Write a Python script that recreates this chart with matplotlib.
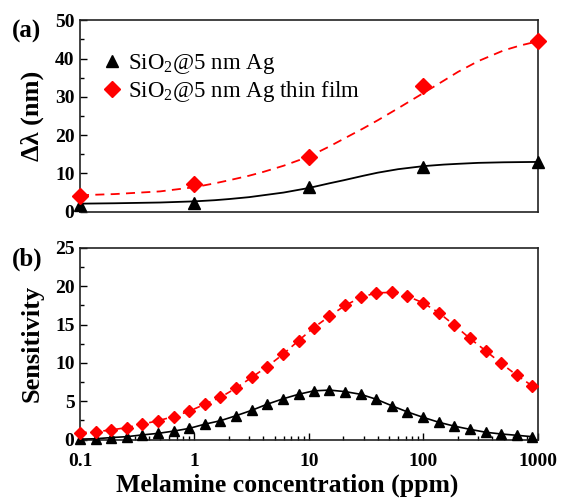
import matplotlib
matplotlib.use('Agg')
import matplotlib.pyplot as plt
from matplotlib.ticker import MultipleLocator, LogLocator, NullFormatter, FixedLocator, FixedFormatter

plt.rcParams['font.family'] = ['Liberation Serif', 'DejaVu Serif']
plt.rcParams['mathtext.fontset'] = 'custom'
plt.rcParams['mathtext.rm'] = 'Liberation Serif'

# (a) measured shift
conc = [0.1, 1, 10, 100, 1000]
shift_np = [1.8, 2.3, 6.4, 11.7, 12.9]
shift_film = [4.1, 7.3, 14.4, 32.8, 44.5]

# (a) fitted curves
fit_x = [0.1, 0.2, 0.5, 1, 1.5, 2, 3, 4, 6, 10, 15, 20, 30, 40, 60,
         100, 150, 200, 300, 500, 700, 1000]
fit_np = [2.1, 2.2, 2.4, 2.7, 3.0, 3.3, 3.8, 4.3, 5.0, 6.2, 7.4, 8.2, 9.4, 10.2, 11.1,
          11.9, 12.3, 12.5, 12.75, 12.9, 12.95, 13.0]
fit_film = [4.3, 4.6, 5.3, 6.4, 7.4, 8.2, 9.4, 10.4, 12.0, 14.4, 17.0, 19.0, 21.8, 23.9, 27.0,
            31.0, 34.2, 36.5, 39.3, 42.1, 43.4, 44.5]

# (b) sensitivity
sens_x = [0.1, 0.137, 0.187, 0.256, 0.35, 0.48, 0.66, 0.9, 1.23, 1.68,
          2.3, 3.15, 4.3, 5.9, 8.1, 11.0, 15.1, 20.7, 28.3, 38.7,
          53, 72.4, 99, 136, 185, 254, 348, 476, 651, 890]
sens_np = [0.05, 0.1, 0.25, 0.37, 0.6, 0.8, 1.1, 1.45, 2.0, 2.45,
           3.1, 3.8, 4.6, 5.3, 5.9, 6.35, 6.45, 6.25, 5.9, 5.25,
           4.4, 3.6, 2.9, 2.25, 1.75, 1.33, 0.95, 0.72, 0.55, 0.37]
sens_film = [0.9, 1.0, 1.25, 1.55, 2.0, 2.45, 3.0, 3.7, 4.6, 5.5,
             6.7, 8.1, 9.5, 11.1, 12.9, 14.6, 16.1, 17.5, 18.55, 19.15,
             19.2, 18.7, 17.85, 16.55, 14.95, 13.2, 11.6, 9.95, 8.4, 7.0]

xticks = [0.1, 1, 10, 100, 1000]
xlabels = ['0.1', '1', '10', '100', '1000']

fig = plt.figure(figsize=(5.61, 5.0), dpi=100)
ax1 = fig.add_axes([0.1426, 0.5766, 0.8164, 0.383])
ax2 = fig.add_axes([0.1426, 0.121, 0.8164, 0.383])

# ---- panel (a)
ax1.plot(fit_x, fit_np, color='black', lw=1.3)
ax1.plot(fit_x, fit_film, color='red', lw=1.3, ls=(0, (5, 3.5)))
ax1.plot(conc, shift_np, '^', color='black', ms=9, clip_on=False, zorder=5,
         label=r'SiO$_2$@5 nm Ag')
ax1.plot(conc, shift_film, 'D', color='red', ms=8, clip_on=False, zorder=5,
         label=r'SiO$_2$@5 nm Ag thin film')
ax1.set_xscale('log')
ax1.set_xlim(0.1, 1000)
ax1.set_ylim(0, 50)
ax1.yaxis.set_major_locator(MultipleLocator(10))
ax1.yaxis.set_minor_locator(MultipleLocator(5))
ax1.tick_params(axis='x', which='both', bottom=False, labelbottom=False)
ax1.set_ylabel('Δλ (nm)', fontsize=19, fontweight='bold', labelpad=8)
ax1.legend(loc='upper left', bbox_to_anchor=(0.02, 0.88), frameon=False,
           fontsize=16.5, handletextpad=0.1, handlelength=1.2,
           borderaxespad=0, labelspacing=0.1)
ax1.text(-0.148, 1.0, '(a)', transform=ax1.transAxes, fontsize=18,
         fontweight='bold', va='top', ha='left')

# ---- panel (b)
ax2.plot(sens_x, sens_np, '-^', color='black', ms=6.5, lw=1.2,
         clip_on=False, zorder=4)
ax2.plot(sens_x, sens_film, 'D', color='red', ms=6, clip_on=False, zorder=4)
ax2.plot(sens_x, sens_film, color='red', lw=1.2, ls=(0, (4, 3)), zorder=3)
ax2.set_xscale('log')
ax2.set_xlim(0.1, 1000)
ax2.set_ylim(0, 25)
ax2.yaxis.set_major_locator(MultipleLocator(5))
ax2.yaxis.set_minor_locator(MultipleLocator(2.5))
ax2.xaxis.set_major_locator(FixedLocator(xticks))
ax2.xaxis.set_major_formatter(FixedFormatter(xlabels))
ax2.xaxis.set_minor_locator(LogLocator(base=10, subs=range(2, 10)))
ax2.xaxis.set_minor_formatter(NullFormatter())
ax2.set_ylabel('Sensitivity', fontsize=19, fontweight='bold', labelpad=8)
ax2.set_xlabel('Melamine concentration (ppm)', fontsize=18.5,
               fontweight='bold', labelpad=4)
ax2.xaxis.set_label_coords(0.452, -0.18)
ax2.text(-0.148, 1.0, '(b)', transform=ax2.transAxes, fontsize=18,
         fontweight='bold', va='top', ha='left')

for ax in (ax1, ax2):
    for s in ax.spines.values():
        s.set_linewidth(1.2)
        s.set_color('#222222')
    ax.tick_params(which='both', direction='in', right=False, top=False)
    ax.tick_params(which='major', length=5, width=1)
    ax.tick_params(which='minor', length=3, width=1)
    ax.tick_params(axis='y', pad=4)
    ax.tick_params(axis='x', pad=10)
    for t in ax.get_yticklabels() + ax.get_xticklabels():
        t.set_fontsize(14)
        t.set_fontweight('bold')

plt.savefig('out.png', dpi=100)
plt.close()
